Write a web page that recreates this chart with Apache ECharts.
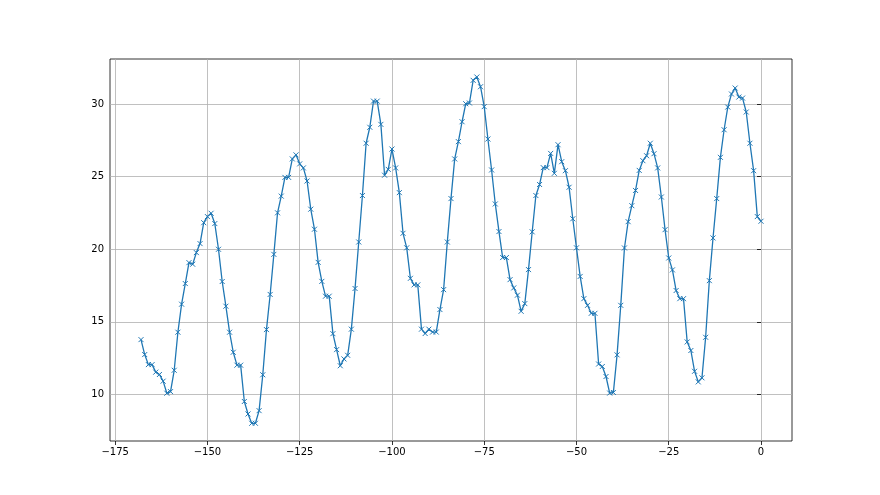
<!DOCTYPE html>
<html>
<head>
<meta charset="utf-8">
<script src="https://cdn.jsdelivr.net/npm/echarts@6/dist/echarts.min.js"></script>
<style>html,body{margin:0;padding:0;background:#fff}#c{width:880px;height:495px}</style>
</head>
<body>
<div id="c"></div>
<script>
const xValues = [];
for (let v = -168; v <= 0; v++) xValues.push(v);
const yValues = [
13.78,12.75,12.06,12.06,11.54,11.38,10.92,10.09,10.2,11.67,
14.29,16.22,17.64,19.08,18.97,19.77,20.39,21.83,22.25,22.48,
21.77,20.0,17.78,16.08,14.29,12.91,12.02,12.02,9.52,8.66,
8.02,8.02,8.89,11.36,14.47,16.89,19.65,22.51,23.66,24.95,
24.95,26.22,26.5,25.88,25.6,24.7,22.76,21.38,19.1,17.79,
16.77,16.77,14.19,13.09,11.98,12.45,12.7,14.5,17.3,20.5,
23.7,27.3,28.4,30.2,30.2,28.6,25.1,25.5,26.9,25.6,
23.9,21.1,20.1,18.0,17.55,17.55,14.5,14.2,14.5,14.3,
14.3,15.85,17.22,20.5,23.49,26.22,27.41,28.78,30.02,30.07,
31.63,31.86,31.19,29.82,27.59,25.46,23.12,21.22,19.43,19.43,
17.91,17.34,16.84,15.73,16.26,18.6,21.2,23.7,24.46,25.62,
25.62,26.6,25.23,27.2,26.03,25.41,24.27,22.1,20.1,18.13,
16.6,16.14,15.59,15.59,12.1,11.93,11.24,10.1,10.14,12.73,
16.14,20.09,21.9,23.0,24.05,25.43,26.1,26.44,27.3,26.58,
25.6,23.6,21.35,19.4,18.58,17.16,16.6,16.6,13.62,13.03,
11.6,10.87,11.15,13.94,17.84,20.78,23.49,26.33,28.23,29.79,
30.69,31.1,30.48,30.41,29.45,27.3,25.41,22.25,21.93
];
const xTicks = [-175,-150,-125,-100,-75,-50,-25,0];
const yTicks = [10,15,20,25,30];

const fmt = v => String(v).replace('-', '\u2212');
const labelStyle = {fontFamily:'DejaVu Sans', fontSize:10, color:'#000'};
const chart = echarts.init(document.getElementById('c'), null, {renderer:'canvas'});
chart.setOption({
  animation:false,
  grid:{left:110,right:88,top:59,bottom:54,show:true,borderColor:'#000',borderWidth:0.8,backgroundColor:'transparent'},
  xAxis:{type:'value',min:-176.4,max:8.4,
    axisLine:{show:false},
    axisTick:{show:true,customValues:xTicks,length:4,lineStyle:{color:'#000',width:0.8}},
    axisLabel:Object.assign({customValues:xTicks,formatter:fmt,margin:6},labelStyle),
    splitLine:{show:true,lineStyle:{color:'#b0b0b0',width:0.8}}
  },
  yAxis:{type:'value',min:6.8,max:33.1,
    axisLine:{show:false},
    axisTick:{show:true,customValues:yTicks,length:4,lineStyle:{color:'#000',width:0.8}},
    axisLabel:Object.assign({customValues:yTicks,formatter:fmt,margin:6},labelStyle),
    splitLine:{show:true,lineStyle:{color:'#b0b0b0',width:0.8}}
  },
  series:[{type:'line',data:xValues.map((x,i)=>[x,yValues[i]]),
    symbol:'path://M0,0L10,10M10,0L0,10',symbolSize:5,showSymbol:true,
    itemStyle:{color:'#1f77b4',borderColor:'#1f77b4',borderWidth:1},
    lineStyle:{color:'#1f77b4',width:1.3}
  }]
});
</script>
</body>
</html>
